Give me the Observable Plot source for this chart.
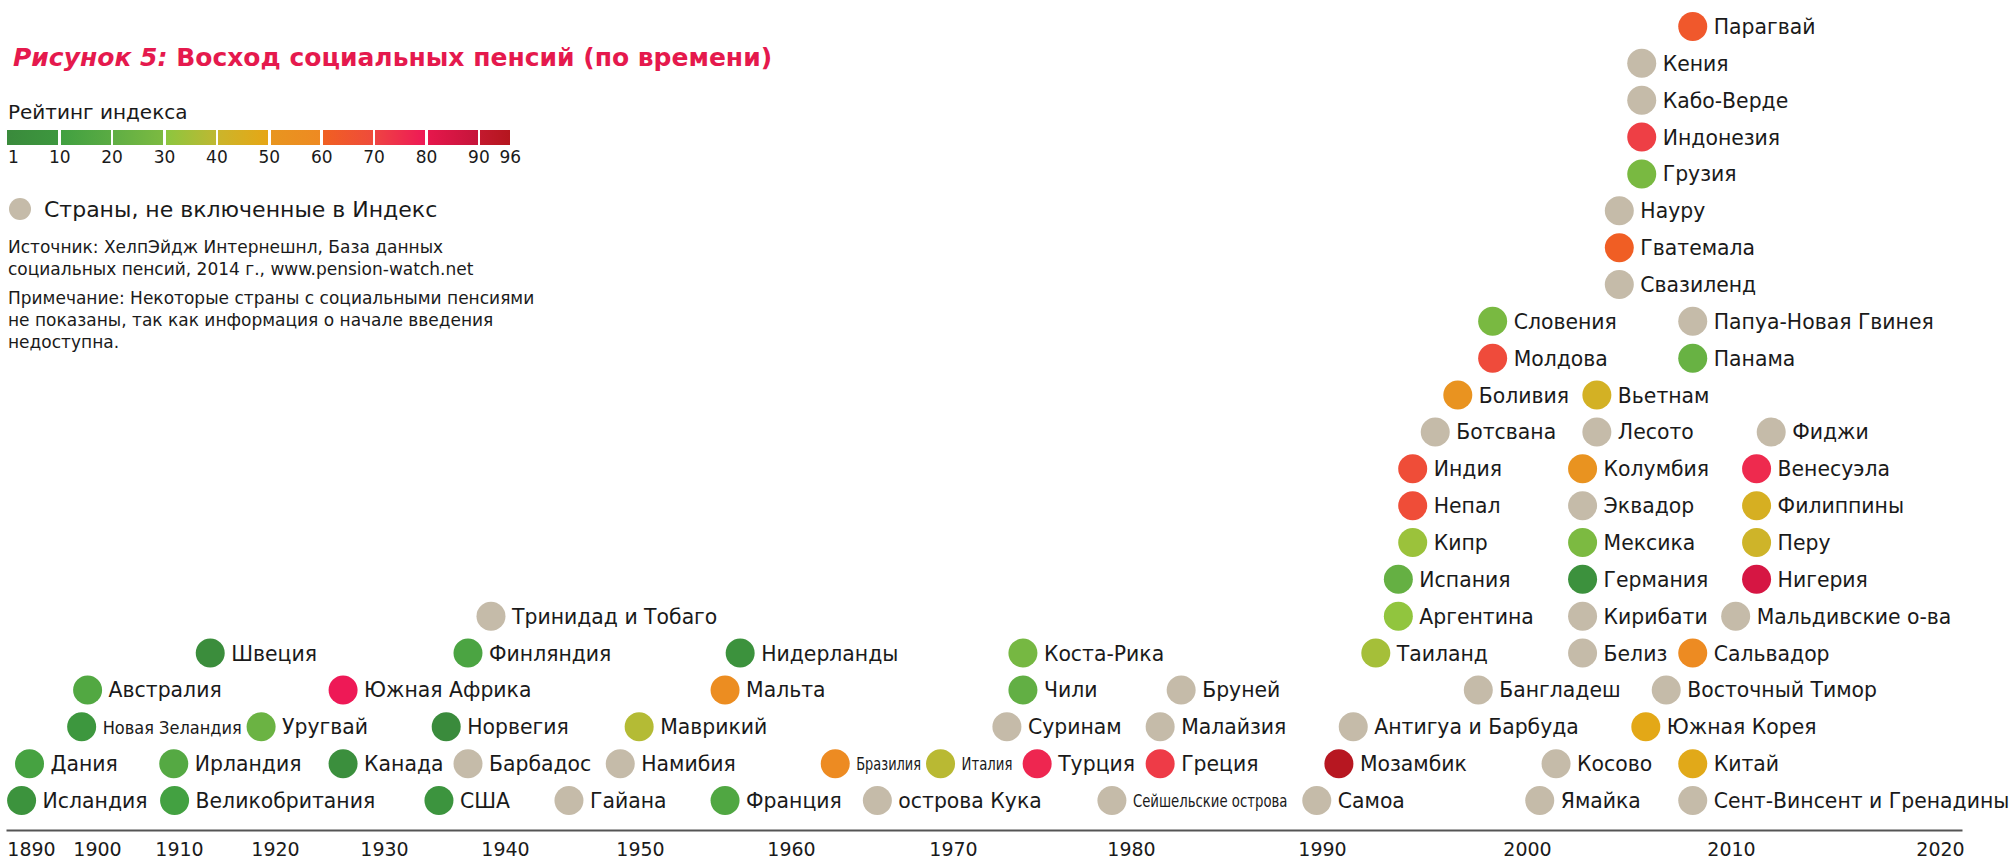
<!DOCTYPE html>
<html>
<head>
<meta charset="utf-8">
<script src="https://cdn.jsdelivr.net/npm/d3@7"></script>
<script src="https://cdn.jsdelivr.net/npm/@observablehq/plot@0.6"></script>
<style>
  html, body { margin: 0; padding: 0; background: #fff; }
  #wrap { position: relative; width: 2015px; height: 861px; overflow: hidden; font-family: "DejaVu Sans", Verdana, sans-serif; color: #1a1a1a; }
  #chart { position: absolute; left: 0; top: 0; }
  .abs { position: absolute; white-space: nowrap; line-height: 1; }
  #title { left: 13px; top: 45px; font-size: 25px; font-weight: bold; color: #e5194d; }
  #title i { font-style: oblique; }
  #legendTitle { left: 8px; top: 102px; font-size: 20px; }
  #bar { position: absolute; left: 0; top: 130px; height: 15px; width: 520px; }
  .seg { position: absolute; top: 0; height: 15px; }
  .lnum { position: absolute; top: 149px; font-size: 17px; line-height: 1; }
  #grayDot { position: absolute; left: 9px; top: 198px; width: 22px; height: 22px; border-radius: 50%; background: #c5bba9; }
  #grayText { left: 44px; top: 199px; font-size: 22px; }
  .note { position: absolute; left: 8px; font-size: 17px; line-height: 22px; white-space: nowrap; }
</style>
</head>
<body>
<div id="wrap">
  <div id="chart"></div>
  <div class="abs" id="title"><i>Рисунок 5:</i> Восход социальных пенсий (по времени)</div>
  <div class="abs" id="legendTitle">Рейтинг индекса</div>
  <div id="bar"></div>
  <div id="grayDot"></div>
  <div class="abs" id="grayText">Страны, не включенные в Индекс</div>
  <div class="note" style="top:236px">Источник: ХелпЭйдж Интернешнл, База данных<br>социальных пенсий, 2014 г., www.pension-watch.net</div>
  <div class="note" style="top:287px">Примечание: Некоторые страны с социальными пенсиями<br>не показаны, так как информация о начале введения<br>недоступна.</div>
</div>
<script>
// ---------- DATA ----------
const names = [
  "Исландия","Великобритания","США","Гайана","Франция","острова Кука","Сейшельские острова","Самоа","Ямайка","Сент-Винсент и Гренадины",
  "Дания","Ирландия","Канада","Барбадос","Намибия","Бразилия","Италия","Турция","Греция","Мозамбик","Косово","Китай",
  "Новая Зеландия","Уругвай","Норвегия","Маврикий","Суринам","Малайзия","Антигуа и Барбуда","Южная Корея",
  "Австралия","Южная Африка","Мальта","Чили","Бруней","Бангладеш","Восточный Тимор",
  "Швеция","Финляндия","Нидерланды","Коста-Рика","Таиланд","Белиз","Сальвадор",
  "Тринидад и Тобаго","Аргентина","Кирибати","Мальдивские о-ва",
  "Испания","Германия","Нигерия",
  "Кипр","Мексика","Перу",
  "Непал","Эквадор","Филиппины",
  "Индия","Колумбия","Венесуэла",
  "Ботсвана","Лесото","Фиджи",
  "Боливия","Вьетнам",
  "Молдова","Панама",
  "Словения","Папуа-Новая Гвинея",
  "Свазиленд","Гватемала","Науру","Грузия","Индонезия","Кабо-Верде","Кения","Парагвай"
];
// year of introduction, as placed on the time axis
const years = [
  1888.5,1909.4,1934.5,1944.7,1955.6,1965.3,1978.9,1989.7,2000.6,2008.1,
  1889.7,1909.3,1926.2,1936.9,1948.5,1962.7,1969.2,1974.7,1981.5,1990.8,2001.4,2008.1,
  1897.6,1918.5,1935.1,1949.9,1973.0,1981.5,1991.5,2005.8,
  1898.5,1926.2,1955.6,1973.9,1982.6,1997.6,2006.8,
  1913.2,1936.9,1956.6,1973.9,1992.6,2002.7,2008.1,
  1938.8,1993.7,2002.7,2010.2,
  1993.7,2002.7,2011.2,
  1994.4,2002.7,2011.2,
  1994.4,2002.7,2011.2,
  1994.4,2002.7,2011.2,
  1995.5,2003.4,2011.9,
  1996.6,2003.4,
  1998.3,2008.1,
  1998.3,2008.1,
  2004.5,2004.5,2004.5,2005.6,2005.6,2005.6,2005.6,2008.1
];
// stacking level of each dot (0 = bottom row)
const levels = [
  0,0,0,0,0,0,0,0,0,0,
  1,1,1,1,1,1,1,1,1,1,1,1,
  2,2,2,2,2,2,2,2,
  3,3,3,3,3,3,3,
  4,4,4,4,4,4,4,
  5,5,5,5,
  6,6,6,
  7,7,7,
  8,8,8,
  9,9,9,
  10,10,10,
  11,11,
  12,12,
  13,13,
  14,15,16,17,18,19,20,21
];
// index rating (null = not included in the Index)
const ranks = [
  7,11,8,null,16,null,null,null,null,null,
  12,18,4,null,null,59,39,77,72,95,null,48,
  10,24,1,38,null,null,null,49,
  17,80,57,21,null,null,null,
  2,14,6,28,35,null,59,
  null,31,null,null,
  22,5,85,
  33,30,41,
  69,null,44,
  69,52,76,
  null,null,null,
  52,43,
  70,23,
  29,null,
  null,61,null,29,71,null,null,64
];
const yearTicks = [1890,1900,1910,1920,1930,1940,1950,1960,1970,1980,1990,2000,2010,2020];
// legend scale of the index rating
const legendBreaks = [0,10,20,30,40,50,60,70,80,90,96];
const legendLabels = ["1","10","20","30","40","50","60","70","80","90","96"];
const segStartColors = ["#3a8a3c","#41a041","#5fae44","#8cc63f","#cbb52b","#e8951f","#f06022","#ee4343","#e6174c","#c3192e"];
const segEndColors   = ["#3d973e","#5aab43","#7cba41","#beb832","#e6a615","#ee8a22","#ef4b3b","#ee1956","#c5153a","#b5161e"];
const grayColor = "#c5bba9";
// labels that the original sets in a narrowed face (horizontal squeeze factor)
const condensedScale = {"Новая Зеландия": 1.0, "Бразилия": 0.8, "Италия": 0.82, "Сейшельские острова": 0.82};

// ---------- BUILD ----------
const data = names.map((name, i) => ({name, year: years[i], level: levels[i], rank: ranks[i]}));
const indexed = data.filter(d => d.rank != null);
const other = data.filter(d => d.rank == null);
const regularLabels = data.filter(d => !(d.name in condensedScale));
const narrowLabels = data.filter(d => d.name in condensedScale);

// piecewise colour scale: each legend segment is its own gradient
const colorDomain = [], colorRange = [];
for (let k = 0; k < segStartColors.length; k++) {
  colorDomain.push(legendBreaks[k] + (k ? 0.01 : 0), legendBreaks[k + 1]);
  colorRange.push(segStartColors[k], segEndColors[k]);
}

// the original's time axis is stretched: tick labels are unevenly spaced
const tickPx = [31, 97, 179, 275, 384, 505, 640, 791, 953, 1131, 1322, 1527, 1731, 1940];

const chart = Plot.plot({
  width: 2015,
  height: 861,
  marginLeft: 7,
  marginRight: 54,
  marginTop: 0,
  marginBottom: 31,
  style: {fontFamily: "DejaVu Sans, Verdana, sans-serif", color: "#1a1a1a", background: "transparent"},
  x: {type: "linear", domain: yearTicks, range: tickPx, axis: null},
  y: {domain: [0, 21], range: [800, 26], axis: null},
  color: {type: "linear", domain: colorDomain, range: colorRange, interpolate: "rgb"},
  marks: [
    Plot.frame({anchor: "bottom", stroke: "#555", strokeWidth: 2}),
    Plot.axisX({ticks: yearTicks, tickSize: 0, tickPadding: 12, tickFormat: d => String(d), label: null, fontSize: 19, fill: "#1a1a1a"}),
    Plot.dot(other, {x: "year", y: "level", r: 14.5, fill: grayColor}),
    Plot.dot(indexed, {x: "year", y: "level", r: 14.5, fill: "rank"}),
    Plot.text(regularLabels, {x: "year", y: "level", text: "name", textAnchor: "start", dx: 21, dy: 1, fontSize: 20.4, fill: "#1a1a1a"}),
    Plot.text(narrowLabels, {x: "year", y: "level", text: "name", textAnchor: "start", dx: 21, dy: 1, fontSize: 18, fill: "#1a1a1a",
      fontFamily: "DejaVu Sans Condensed, sans-serif"})
  ]
});
// squeeze the narrow-set labels horizontally, keeping their start point
d3.select(chart).selectAll("text").each(function() {
  const s = condensedScale[this.textContent];
  if (s !== undefined && s !== 1) {
    const t = this.getAttribute("transform") || "";
    this.setAttribute("transform", `${t} scale(${s},1)`);
  }
});
document.getElementById("chart").appendChild(chart);

// ---------- LEGEND BAR ----------
const bar = document.getElementById("bar");
const lx = r => 7.3 + r * 5.24;
for (let k = 0; k < segStartColors.length; k++) {
  const x0 = lx(legendBreaks[k]) + (k ? 1.3 : 0);
  const x1 = lx(legendBreaks[k + 1]) - (k < segStartColors.length - 1 ? 1.3 : 0);
  const s = document.createElement("div");
  s.className = "seg";
  s.style.left = x0 + "px";
  s.style.width = (x1 - x0) + "px";
  s.style.background = `linear-gradient(to right, ${segStartColors[k]}, ${segEndColors[k]})`;
  bar.appendChild(s);
}
const wrap = document.getElementById("wrap");
legendLabels.forEach((t, k) => {
  const el = document.createElement("div");
  el.className = "lnum";
  el.textContent = t;
  wrap.appendChild(el);
  const w = el.getBoundingClientRect().width;
  const cx = lx(legendBreaks[k]);
  el.style.left = (k === 0 ? 8 : cx - w / 2) + "px";
});
</script>
</body>
</html>
